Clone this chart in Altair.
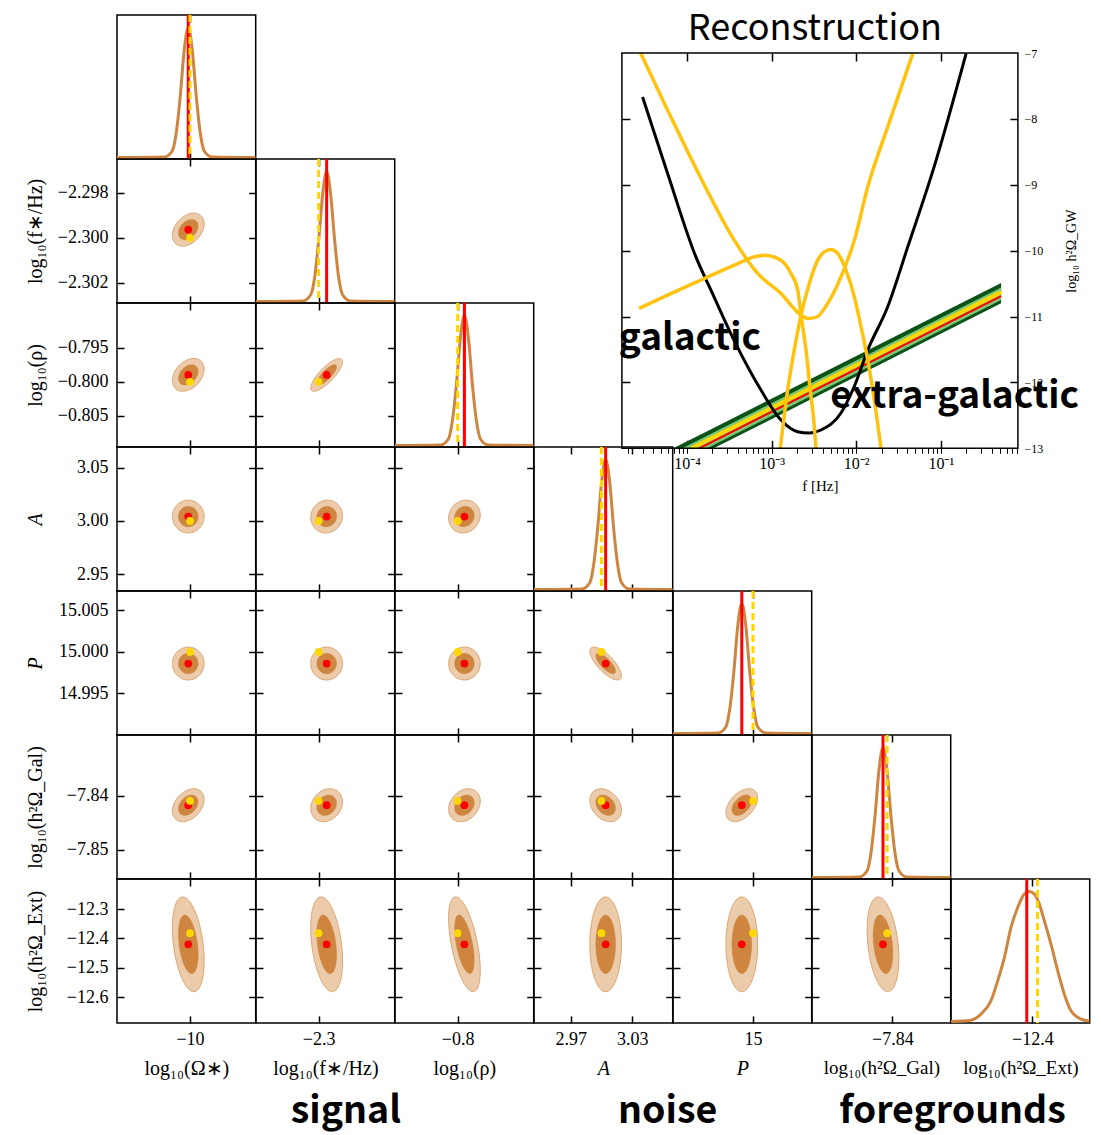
import altair as alt
import numpy as np
import pandas as pd

# ------------------------------------------------------------------ data
PARAM_TITLES = ["log₁₀(Ω∗)", "log₁₀(f∗/Hz)", "log₁₀(ρ)", "A", "P",
                "log₁₀(h²Ω_Gal)", "log₁₀(h²Ω_Ext)"]
ITALIC = [False, False, False, True, True, False, False]

DOMAIN_LO = [-10.02105, -2.30289, -0.80960, 2.93430, 14.99000, -7.85536, -12.68800]
DOMAIN_HI = [-9.98105, -2.29649, -0.78836, 3.06940, 15.00734, -7.82885, -12.19730]

TRUE_VALUES = [-10.0, -2.300, -0.800, 3.000, 15.000, -7.841, -12.382]
MEAN_VALUES = [-10.0005, -2.29963, -0.79897, 3.0041, 14.9986, -7.84179, -12.420]
SIGMA_VALUES = [0.00187, 0.00030, 0.00099, 0.0063, 0.00081, 0.00124, 0.066]

CORR_ROWS = [
    [],
    [0.35],
    [0.35, 0.80],
    [0.0, 0.05, 0.10],
    [0.0, 0.0, 0.0, -0.75],
    [0.35, 0.20, 0.25, -0.30, 0.45],
    [-0.35, -0.35, -0.55, 0.0, 0.0, -0.30],
]

X_TICKS = [[-10], [-2.3], [-0.8], [2.97, 3.03], [15], [-7.84], [-12.4]]
X_FMT = ["d", ".1f", ".1f", ".2f", "d", ".2f", ".1f"]
Y_TICKS = [[0.5], [-2.298, -2.300, -2.302], [-0.795, -0.800, -0.805],
           [3.05, 3.00, 2.95], [15.005, 15.000, 14.995], [-7.84, -7.85],
           [-12.3, -12.4, -12.5, -12.6]]
Y_FMT = [".1f", ".3f", ".3f", ".2f", ".3f", ".2f", ".1f"]

# 1D marginals (x in parameter units, relative height)
MARG_X = [
    [-10.02105, -10.00742, -10.00511, -10.00396, -10.00281, -10.00165, -10.0005,
     -9.99935, -9.99819, -9.99704, -9.99589, -9.99358, -9.98105],
    [-2.30289, -2.30074, -2.30037, -2.30018, -2.30000, -2.29981, -2.29963,
     -2.29945, -2.29926, -2.29908, -2.29889, -2.29852, -2.29649],
    [-0.80960, -0.80264, -0.80142, -0.80081, -0.80019, -0.79958, -0.79897,
     -0.79836, -0.79775, -0.79713, -0.79652, -0.79530, -0.78836],
    [2.93430, 2.98072, 2.98852, 2.99241, 2.99631, 3.00020, 3.00410,
     3.00800, 3.01189, 3.01579, 3.01968, 3.02748, 3.06940],
    [14.99000, 14.99560, 14.99660, 14.99710, 14.99760, 14.99810, 14.99860,
     14.99910, 14.99960, 15.00010, 15.00060, 15.00160, 15.00734],
    [-7.85536, -7.84638, -7.84485, -7.84408, -7.84332, -7.84255, -7.84179,
     -7.84103, -7.84026, -7.83950, -7.83873, -7.83720, -7.82885],
    [-12.688, -12.6172, -12.5819, -12.5465, -12.5228, -12.4994, -12.4757, -12.452,
     -12.4287, -12.411, -12.3933, -12.3756, -12.3579, -12.3342, -12.3105, -12.2871,
     -12.2634, -12.2281, -12.1973],
]
MARG_H_NARROW = [0.0, 0.004, 0.05, 0.19, 0.47, 0.83, 1.0, 0.83, 0.47, 0.19, 0.05, 0.004, 0.0]
MARG_H = [MARG_H_NARROW] * 6 + [
    [0.0, 0.01, 0.057, 0.16, 0.313, 0.49, 0.723, 0.877, 0.98, 1.0, 0.98, 0.903,
     0.775, 0.595, 0.39, 0.21, 0.082, 0.018, 0.003]
]

# Reconstruction inset (log10 f, log10 h^2 Omega)
INSET_LOGF_RANGE = [-4.768, -0.09]
INSET_LOGO_RANGE = [-13.0, -7.0]
BLACK_LOGF = [-4.524, -4.228, -3.894, -3.716, -3.444, -3.125, -2.889, -2.691, -2.558,
              -2.416, -2.180, -2.026, -1.864, -1.628, -1.391, -1.080, -0.702]
BLACK_LOGO = [-7.667, -8.829, -10.094, -10.599, -11.357, -12.116, -12.571, -12.748,
              -12.768, -12.722, -12.465, -12.070, -11.509, -10.852, -9.942, -8.729, -7.009]
YU_LOGF = [-4.544, -4.228, -3.835, -3.441, -3.164, -2.889, -2.652, -2.573, -2.475,
           -2.337, -2.180, -2.022, -1.864, -1.628, -1.332]
YU_LOGO = [-7.009, -7.869, -8.900, -9.841, -10.346, -10.649, -10.978, -11.028, -11.013,
           -10.801, -10.397, -9.841, -9.032, -8.122, -7.009]
YA_LOGF = [-4.564, -4.228, -3.835, -3.441, -3.204, -3.086, -2.889, -2.771, -2.691,
           -2.652, -2.593, -2.543, -2.502, -2.475]
YA_LOGO = [-10.877, -10.675, -10.447, -10.220, -10.094, -10.068, -10.144, -10.346,
           -10.599, -10.978, -11.509, -12.116, -12.571, -13.0]
YB_LOGF = [-2.897, -2.810, -2.732, -2.652, -2.554, -2.455, -2.377, -2.298, -2.219,
           -2.121, -2.022, -1.943, -1.864, -1.786, -1.707]
YB_LOGO = [-13.0, -12.116, -11.509, -10.978, -10.497, -10.144, -10.018, -9.982,
           -10.042, -10.295, -10.701, -11.156, -11.661, -12.267, -13.0]
# extra-galactic band (cut where it leaves the panel at the bottom)
OUT_LOGF = [-4.162, -3.684, -0.288]
OUT_LO = [-13.0, -13.0, -10.800]
OUT_HI = [-13.0, -12.690, -10.490]
IN_LOGF = [-4.054, -3.761, -0.288]
IN_LO = [-13.0, -13.0, -10.750]
IN_HI = [-13.0, -12.810, -10.560]
RED_LOGF = [-3.854, -0.288]
RED_LOGO = [-13.0, -10.690]
TRUE_LOGF = [-3.946, -0.288]
TRUE_LOGO = [-13.0, -10.630]
INSET_TEXT = ["galactic", "extra-galactic", "Reconstruction"]
INSET_TEXT_LOGF = [-4.804, -2.306, -2.488]
INSET_TEXT_LOGO = [-11.509, -12.393, -6.803]

GROUP_LABELS = ["signal", "noise", "foregrounds"]
GROUP_POS = [1.637, 3.957, 6.011]   # in units of corner-plot columns

# ------------------------------------------------------------------ style / geometry
SERIF = "Liberation Serif"
SANS = "Noto Sans CJK JP"
PERU = "#CD853F"
LIGHT_FILL = "#EBCBA9"
LIGHT_EDGE = "#DBA674"
GOLD = "#FFD700"
RED = "#FF0000"
PW, PH = 138.7, 143.9
K68, K95 = 1.515, 2.448
# inset frame inside its host cell (row 0, column 3)
IN_X0, IN_X1 = 87.9, 483.9
IN_Y0, IN_Y1 = 38.0, 433.3
HOST = (0, 3)
LABEL_HOST = (5, 6)


def tick_axis(orient, values, size=7, offset=None):
    return alt.Axis(orient=orient, values=values,
                    offset=-size if offset is None else offset, tickSize=size,
                    tickWidth=1.5, tickColor="black", labels=False, domain=False,
                    title=None, grid=False)


def label_y_axis(r):
    return alt.Axis(orient="left", values=Y_TICKS[r], format=Y_FMT[r], tickSize=0,
                    domain=False, labelPadding=9, labelFont=SERIF, labelFontSize=18,
                    labelOverlap=False, labelFlush=False,
                    title=PARAM_TITLES[r], titleFont=SERIF, titleFontSize=20,
                    titleFontStyle="italic" if ITALIC[r] else "normal",
                    titlePadding=6, minExtent=66, maxExtent=66, grid=False)


def label_x_axis(c):
    return alt.Axis(orient="bottom", values=X_TICKS[c], format=X_FMT[c], tickSize=0,
                    domain=False, labelPadding=8, labelFont=SERIF, labelFontSize=18,
                    labelOverlap=False, labelFlush=False,
                    title=PARAM_TITLES[c], titleFont=SERIF,
                    titleFontSize=19 if c >= 5 else 20,
                    titleFontStyle="italic" if ITALIC[c] else "normal",
                    titlePadding=10, grid=False)


def ellipse_df(mx, my, sx, sy, rho, k, n=48):
    t = np.linspace(0.0, np.pi, n)
    dx = k * np.cos(t)
    centre = my + rho * sy * dx
    half = sy * np.sqrt((1 - rho ** 2) * np.clip(k ** 2 - dx ** 2, 0, None))
    return pd.DataFrame({"x": mx + sx * dx, "lo": centre - half, "hi": centre + half})


def make_panel(r, c):
    xsc = alt.Scale(domain=[DOMAIN_LO[c], DOMAIN_HI[c]], nice=False, zero=False)
    if r == c:
        ysc = alt.Scale(domain=[-0.011, 1.096], nice=False, zero=False)
        curve = pd.DataFrame({"x": MARG_X[c], "h": MARG_H[c]})
        l1 = alt.Chart(curve).mark_line(color=PERU, strokeWidth=3, interpolate="monotone",
                                        clip=True).encode(
            x=alt.X("x:Q", scale=xsc, axis=tick_axis("bottom", X_TICKS[c])),
            y=alt.Y("h:Q", scale=ysc, axis=None))
        # invisible copy of the curve carrying the top ticks (and the bottom labels)
        l1b = alt.Chart(curve).mark_line(strokeOpacity=0, clip=True).encode(
            x=alt.X("x:Q", scale=xsc, axis=tick_axis("top", X_TICKS[c])),
            y=alt.Y("h:Q", scale=ysc, axis=None))
        l2 = alt.Chart(pd.DataFrame({"x": [MEAN_VALUES[c]]})).mark_rule(
            color=RED, strokeWidth=3, clip=True).encode(
            x=alt.X("x:Q", scale=xsc, axis=None))
        l3 = alt.Chart(pd.DataFrame({"x": [TRUE_VALUES[c]]})).mark_rule(
            color=GOLD, strokeWidth=3, strokeDash=[7, 4], clip=True).encode(
            x=alt.X("x:Q", scale=xsc, axis=None))
        layers = [l1, l1b, l2, l3]
        if r == 6:
            layers.append(alt.Chart(curve).mark_line(strokeOpacity=0, clip=True).encode(
                x=alt.X("x:Q", scale=xsc, axis=label_x_axis(c)),
                y=alt.Y("h:Q", scale=ysc, axis=None)))
    else:
        ysc = alt.Scale(domain=[DOMAIN_LO[r], DOMAIN_HI[r]], nice=False, zero=False)
        rho = CORR_ROWS[r][c]
        args = (MEAN_VALUES[c], MEAN_VALUES[r], SIGMA_VALUES[c], SIGMA_VALUES[r], rho)
        outer = ellipse_df(*args, K95)
        inner = ellipse_df(*args, K68)
        l1 = alt.Chart(outer).mark_area(fill=LIGHT_FILL, stroke=LIGHT_EDGE, strokeWidth=1,
                                        clip=True).encode(
            x=alt.X("x:Q", scale=xsc, axis=tick_axis("bottom", X_TICKS[c])),
            y=alt.Y("lo:Q", scale=ysc, axis=tick_axis("left", Y_TICKS[r])),
            y2="hi:Q")
        l2 = alt.Chart(inner).mark_area(fill=PERU, stroke=PERU, strokeWidth=0.5,
                                        clip=True).encode(
            x=alt.X("x:Q", scale=xsc, axis=tick_axis("top", X_TICKS[c])),
            y=alt.Y("lo:Q", scale=ysc, axis=tick_axis("right", Y_TICKS[r])),
            y2="hi:Q")
        l3 = alt.Chart(pd.DataFrame({"x": [MEAN_VALUES[c]], "y": [MEAN_VALUES[r]]})).mark_circle(
            size=60, color=RED, opacity=1).encode(
            x=alt.X("x:Q", scale=xsc, axis=label_x_axis(c) if r == 6 else None),
            y=alt.Y("y:Q", scale=ysc, axis=label_y_axis(r) if c == 0 else None))
        l4 = alt.Chart(pd.DataFrame({"x": [TRUE_VALUES[c]], "y": [TRUE_VALUES[r]]})).mark_circle(
            size=60, color=GOLD, opacity=1).encode(
            x=alt.X("x:Q", scale=xsc, axis=None),
            y=alt.Y("y:Q", scale=ysc, axis=None))
        layers = [l1, l2, l3, l4]
    return alt.layer(*layers).resolve_axis(x="independent", y="independent").properties(
        width=PW, height=PH)


def blank():
    return alt.Chart(pd.DataFrame({"v": [0]})).mark_point(opacity=0).encode(
        x=alt.X("v:Q", axis=None), y=alt.Y("v:Q", axis=None)).properties(
        width=PW, height=PH, view=alt.ViewBackground(stroke="transparent"))


# ------------------------------------------------------------------ inset (overlay in host cell)
f_lo, f_hi = 10 ** INSET_LOGF_RANGE[0], 10 ** INSET_LOGF_RANGE[1]
ixs = alt.Scale(type="log", domain=[f_lo, f_hi], range=[IN_X0, IN_X1], nice=False)
iys = alt.Scale(domain=INSET_LOGO_RANGE, range=[IN_Y1, IN_Y0], nice=False, zero=False)
DECADES = [1e-4, 1e-3, 1e-2, 1e-1]
MINORS = [m * 10.0 ** d for d in range(-5, 0) for m in range(2, 10)
          if f_lo <= m * 10.0 ** d <= f_hi]
LEXPR = ("datum.value == 0.0001 ? '10⁻⁴' : datum.value == 0.001 ? '10⁻³' : "
         "datum.value == 0.01 ? '10⁻²' : datum.value == 0.1 ? '10⁻¹' : ''")
INNER_Y = [-12, -11, -10, -9, -8]

inset_bottom = alt.Axis(orient="bottom", offset=IN_Y1 - PH, values=DECADES + MINORS,
                        labelExpr=LEXPR, tickSize=5, tickWidth=1, tickColor="black",
                        domain=False, labelPadding=2, labelFont=SERIF, labelFontSize=16,
                        labelOverlap=False, labelFlush=False, title="f [Hz]",
                        titleFont=SERIF, titleFontSize=15, titlePadding=7, grid=False)
inset_right = alt.Axis(orient="right", offset=IN_X1 - PW,
                       values=[-13, -12, -11, -10, -9, -8, -7], format="d",
                       tickSize=0, domain=False, labelPadding=6, labelFont=SERIF,
                       labelFontSize=12, labelOverlap=False, labelFlush=False,
                       title="log₁₀ h²Ω_GW", titleFont=SERIF, titleFontSize=14,
                       titleAngle=270, titleBaseline="top", titlePadding=22, grid=False)


def fdf(logf, **cols):
    d = {"f": [10 ** v for v in logf]}
    d.update(cols)
    return pd.DataFrame(d)


frame_df = pd.DataFrame({"f0": [f_lo], "f1": [f_hi],
                         "o0": [INSET_LOGO_RANGE[0]], "o1": [INSET_LOGO_RANGE[1]]})
frame = alt.Chart(frame_df).mark_rect(fillOpacity=0, stroke="black", strokeWidth=1.5).encode(
    x=alt.X("f0:Q", scale=ixs, axis=tick_axis("top", DECADES, 8, offset=-(IN_Y0 + 8))),
    x2="f1:Q",
    y=alt.Y("o0:Q", scale=iys, axis=tick_axis("left", INNER_Y, 8, offset=-(IN_X0 + 8))),
    y2="o1:Q")
b1 = alt.Chart(fdf(OUT_LOGF, lo=OUT_LO, hi=OUT_HI)).mark_area(color="#0A5216").encode(
    x=alt.X("f:Q", scale=ixs, axis=inset_bottom),
    y=alt.Y("lo:Q", scale=iys, axis=inset_right), y2="hi:Q")
b2 = alt.Chart(fdf(IN_LOGF, lo=IN_LO, hi=IN_HI)).mark_area(color="#7AC77A").encode(
    x=alt.X("f:Q", scale=ixs, axis=tick_axis("bottom", DECADES, 8, offset=IN_Y1 - PH - 8)),
    y=alt.Y("lo:Q", scale=iys, axis=tick_axis("right", INNER_Y, 8, offset=IN_X1 - PW - 8)),
    y2="hi:Q")
b3 = alt.Chart(fdf(TRUE_LOGF, o=TRUE_LOGO)).mark_line(color=GOLD, strokeWidth=4).encode(
    x=alt.X("f:Q", scale=ixs, axis=None), y=alt.Y("o:Q", scale=iys, axis=None))
b4 = alt.Chart(fdf(RED_LOGF, o=RED_LOGO)).mark_line(color=RED, strokeWidth=2).encode(
    x=alt.X("f:Q", scale=ixs, axis=None), y=alt.Y("o:Q", scale=iys, axis=None))
blk = alt.Chart(fdf(BLACK_LOGF, o=BLACK_LOGO)).mark_line(
    color="black", strokeWidth=3, interpolate="monotone").encode(
    x=alt.X("f:Q", scale=ixs, axis=None), y=alt.Y("o:Q", scale=iys, axis=None))
yellow_df = pd.concat([fdf(YU_LOGF, o=YU_LOGO, curve="U"), fdf(YA_LOGF, o=YA_LOGO, curve="A"),
                       fdf(YB_LOGF, o=YB_LOGO, curve="B")], ignore_index=True)
yel = alt.Chart(yellow_df).mark_line(color="#FFC20E", strokeWidth=3.5,
                                     interpolate="monotone").encode(
    x=alt.X("f:Q", scale=ixs, axis=None), y=alt.Y("o:Q", scale=iys, axis=None),
    detail="curve:N")
text_df = fdf(INSET_TEXT_LOGF, o=INSET_TEXT_LOGO, label=INSET_TEXT)
txt_bold = alt.Chart(text_df.iloc[:2]).mark_text(
    align="left", baseline="alphabetic", font=SANS, fontSize=37, fontWeight="bold",
    color="black").encode(
    x=alt.X("f:Q", scale=ixs, axis=None), y=alt.Y("o:Q", scale=iys, axis=None),
    text="label:N")
txt_title = alt.Chart(text_df.iloc[2:]).mark_text(
    align="center", baseline="alphabetic", font=SANS, fontSize=36, fontWeight="normal",
    color="black").encode(
    x=alt.X("f:Q", scale=ixs, axis=None), y=alt.Y("o:Q", scale=iys, axis=None),
    text="label:N")

inset = alt.layer(b1, b2, b3, b4, blk, yel, frame, txt_bold, txt_title).resolve_axis(
    x="independent", y="independent").properties(
    width=PW, height=PH, view=alt.ViewBackground(stroke="transparent"))

# ------------------------------------------------------------------ group labels (overlay)
gx0 = -LABEL_HOST[1] * PW
grp_df = pd.DataFrame({"label": GROUP_LABELS, "pos": GROUP_POS, "base": [0, 0, 0]})
group_labels = alt.Chart(grp_df).mark_text(font=SANS, fontSize=37.5, fontWeight="bold",
                                           baseline="alphabetic", align="center",
                                           color="black").encode(
    x=alt.X("pos:Q", scale=alt.Scale(domain=[0, 7], range=[gx0, gx0 + 7 * PW],
                                     nice=False, zero=False), axis=None),
    y=alt.Y("base:Q", scale=alt.Scale(domain=[0, 1], range=[387.5, 287.5],
                                      nice=False, zero=False), axis=None),
    text="label:N").properties(width=PW, height=PH,
                               view=alt.ViewBackground(stroke="transparent"))

# ------------------------------------------------------------------ layout: one flush 7x7 grid
cells = []
for r in range(7):
    for c in range(7):
        if c <= r:
            cells.append(make_panel(r, c))
        elif (r, c) == HOST:
            cells.append(inset)
        elif (r, c) == LABEL_HOST:
            cells.append(group_labels)
        else:
            cells.append(blank())

chart = alt.concat(*cells, columns=7, spacing=0, bounds="flush").properties(
    padding={"left": 24, "top": 10, "right": 2, "bottom": 3}
).configure_view(stroke="black", strokeWidth=1.5).configure_axis(
    grid=False, labelColor="black", titleColor="black", titleFontWeight="normal")

chart.save("out.html", embed_options={"renderer": "svg", "actions": False})
